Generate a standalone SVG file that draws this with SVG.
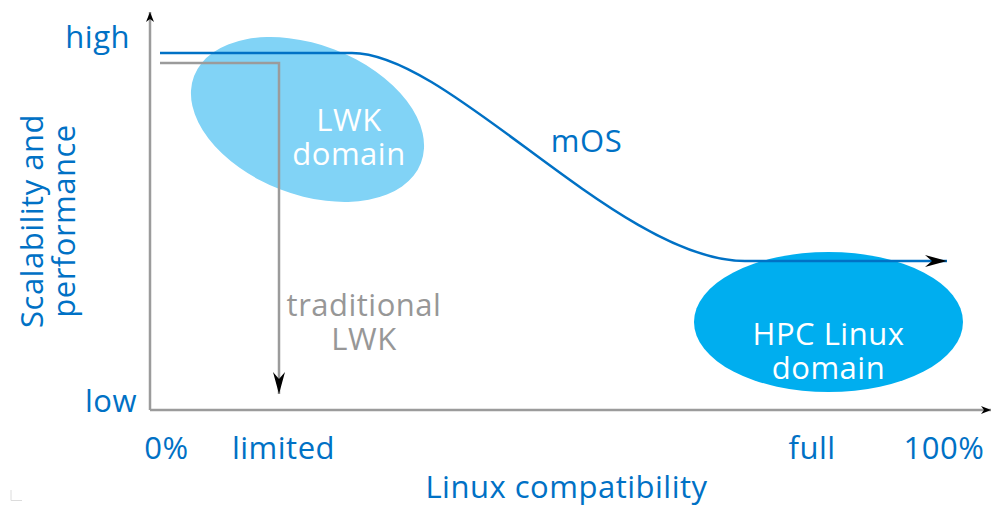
<svg xmlns="http://www.w3.org/2000/svg" width="992" height="506" viewBox="0 0 992 506">
<style>
text{font-family:"Open Sans","Noto Sans","DejaVu Sans",sans-serif;font-size:31px;letter-spacing:0.5px}
.blue{fill:#0071C5}
.white{fill:#FFFFFF}
.grey{fill:#979797}
.mid{text-anchor:middle}
.axis{fill:none;stroke:#9B9B9B;stroke-width:2.5}
</style>
<defs>
<marker id="ah" viewBox="0 0 22 12" refX="22" refY="6" markerWidth="22" markerHeight="12" markerUnits="userSpaceOnUse" orient="auto">
<path d="M0,0 L22,6 L0,12 L7,6 Z" fill="#000"/>
</marker>
<marker id="ahs" viewBox="0 0 10 8" refX="10" refY="4" markerWidth="10" markerHeight="8" markerUnits="userSpaceOnUse" orient="auto">
<path d="M0,0 L10,4 L0,8 L3,4 Z" fill="#000"/>
</marker>
</defs>
<g id="lwk-domain">
<ellipse cx="307.5" cy="119.5" rx="121.5" ry="75" transform="rotate(21 307.5 119.5)" fill="#81D3F6"/>
<text class="white mid" x="349" y="131">LWK<tspan x="349" dy="34">domain</tspan></text>
</g>
<g id="hpc-domain">
<ellipse cx="828.5" cy="322" rx="134.5" ry="70" fill="#00AEEF"/>
<text class="white mid" x="828.5" y="345">HPC Linux<tspan x="828.5" dy="34">domain</tspan></text>
</g>
<g id="connectors">
<path class="axis" d="M150,410 V12" marker-end="url(#ahs)"/>
<path class="axis" d="M150,410 H991" marker-end="url(#ahs)"/>
<path d="M160,63 H279 V394" fill="none" stroke="#9B9B9B" stroke-width="2.5" marker-end="url(#ah)"/>
<path d="M160,53 H352 C450,53 620,261 745,261 H947" fill="none" stroke="#0071C5" stroke-width="2.5" marker-end="url(#ah)"/>
</g>
<g id="labels">
<text class="blue" x="130" y="48" text-anchor="end">high</text>
<text class="blue" x="137" y="412" text-anchor="end">low</text>
<text class="blue mid" x="166.5" y="459">0%</text>
<text class="blue mid" x="283.5" y="459">limited</text>
<text class="blue mid" x="812" y="459">full</text>
<text class="blue mid" x="944" y="459">100%</text>
<text class="blue mid" x="566.5" y="498">Linux compatibility</text>
<text class="blue mid" x="586.5" y="152">mOS</text>
<text class="grey mid" x="364" y="316">traditional<tspan x="364" dy="34">LWK</tspan></text>
<text class="blue mid" transform="translate(43,221) rotate(-90)">Scalability and<tspan x="0" dy="32">performance</tspan></text>
</g>
<path d="M11,490 V500.5 H22" fill="none" stroke="#DCDCDC" stroke-width="1"/>
</svg>
